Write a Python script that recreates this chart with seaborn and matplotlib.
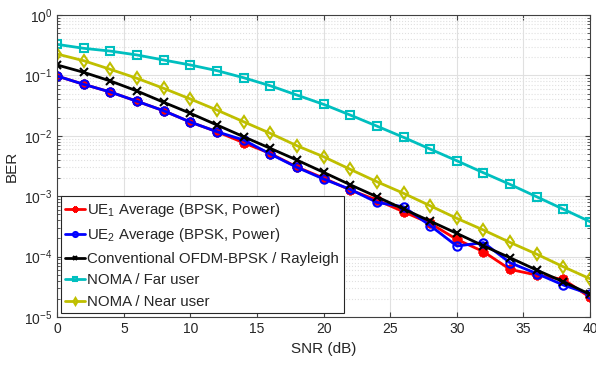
import numpy as np
import pandas as pd
import matplotlib
matplotlib.use("Agg")
import matplotlib.pyplot as plt
import seaborn as sns
from matplotlib.ticker import LogLocator, NullFormatter

snr = [0, 2, 4, 6, 8, 10, 12, 14, 16, 18, 20, 22, 24, 26, 28, 30, 32, 34, 36, 38, 40]

ue1 = [0.0977, 0.0712, 0.0531, 0.0373, 0.0260, 0.0169, 0.0117, 0.00769, 0.00510, 0.00305,
       0.00200, 0.00127, 0.000865, 0.000554, 0.000356, 0.000193, 0.000121, 0.0000616,
       0.0000496, 0.0000421, 0.0000212]
ue2 = [0.0977, 0.0712, 0.0531, 0.0373, 0.0260, 0.0169, 0.0117, 0.00852, 0.00500, 0.00301,
       0.00193, 0.00130, 0.000792, 0.000670, 0.000327, 0.000150, 0.000171, 0.0000793,
       0.0000525, 0.0000339, 0.0000240]
conv = [0.149, 0.1125, 0.0808, 0.0552, 0.0359, 0.0236, 0.0151, 0.00967, 0.00621, 0.00397,
        0.00249, 0.00155, 0.00098, 0.000614, 0.000388, 0.000243, 0.000151, 0.0000959,
        0.0000600, 0.0000384, 0.0000238]
far = [0.327, 0.281, 0.253, 0.218, 0.180, 0.149, 0.120, 0.0916, 0.0675, 0.0473,
       0.0332, 0.0221, 0.0145, 0.00945, 0.00604, 0.00387, 0.00245, 0.00157,
       0.00098, 0.00061, 0.00038]
near = [0.226, 0.175, 0.126, 0.0895, 0.0611, 0.0407, 0.0267, 0.0171, 0.0110, 0.00686,
        0.00451, 0.00279, 0.00174, 0.00112, 0.000696, 0.000431, 0.000276, 0.000172,
        0.000110, 0.0000680, 0.0000431]

labels = [r'UE$_1$ Average (BPSK, Power)',
          r'UE$_2$ Average (BPSK, Power)',
          'Conventional OFDM-BPSK / Rayleigh',
          'NOMA / Far user',
          'NOMA / Near user']

sns.set_style("ticks")
plt.rcParams['font.family'] = ['Liberation Sans', 'DejaVu Sans']
plt.rcParams['mathtext.fontset'] = 'custom'
plt.rcParams['mathtext.rm'] = 'Liberation Sans'
plt.rcParams['mathtext.it'] = 'Liberation Sans'

df = pd.DataFrame({'snr': snr * 5,
                   'ber': ue1 + ue2 + conv + far + near,
                   'curve': sum([[l] * len(snr) for l in labels], [])})

cyan = (0, 0.75, 0.75)
olive = (0.75, 0.75, 0)
styles = [
    dict(color='red', marker=(8, 2, 0), markeredgecolor='red', markersize=7, markeredgewidth=2),
    dict(color='blue', marker='o', markerfacecolor='none', markeredgecolor='blue'),
    dict(color='black', marker='x', markeredgecolor='black'),
    dict(color=cyan, marker='s', markerfacecolor='none', markeredgecolor=cyan),
    dict(color=olive, marker='d', markerfacecolor='none', markeredgecolor=olive),
]

fig, ax = plt.subplots(figsize=(5.96, 3.67), dpi=100)
fig.subplots_adjust(left=0.096, right=0.99, bottom=0.136, top=0.959)

for lab, st in zip(labels, styles):
    sub = df[df['curve'] == lab]
    kw = dict(markersize=6, markeredgewidth=1.5)
    kw.update(st)
    sns.lineplot(data=sub, x='snr', y='ber', ax=ax, label=lab, linewidth=2, **kw)

ax.set_yscale('log')
ax.set_xlim(0, 40)
ax.set_ylim(1e-5, 1)
ax.set_xticks(range(0, 41, 5))
ax.yaxis.set_major_locator(LogLocator(base=10, numticks=10))
ax.yaxis.set_minor_locator(LogLocator(base=10, subs=np.arange(2, 10), numticks=10))
ax.yaxis.set_minor_formatter(NullFormatter())

ax.grid(True, which='major', color='#e0e0e0', linewidth=0.8)
ax.grid(True, which='minor', axis='y', color='#e0e0e0', linestyle=':', linewidth=0.8)
ax.set_axisbelow(True)

ax.tick_params(which='both', direction='in', top=True, right=True, colors='#404040',
               labelcolor='#262626', labelsize=10)
for sp in ax.spines.values():
    sp.set_visible(True)
    sp.set_color('#404040')
    sp.set_linewidth(0.8)

ax.set_xlabel('SNR (dB)', fontsize=11, color='#262626')
ax.set_ylabel('BER', fontsize=11, color='#262626')

leg = ax.legend(loc='lower left', fontsize=10.8, handlelength=1.3, handletextpad=0.15,
                borderaxespad=0.25, labelspacing=0.5, fancybox=False, framealpha=1,
                borderpad=0.3, markerscale=0.6)
leg.get_frame().set_edgecolor('#262626')
leg.get_frame().set_linewidth(0.8)

fig.savefig('out.png', dpi=100)
